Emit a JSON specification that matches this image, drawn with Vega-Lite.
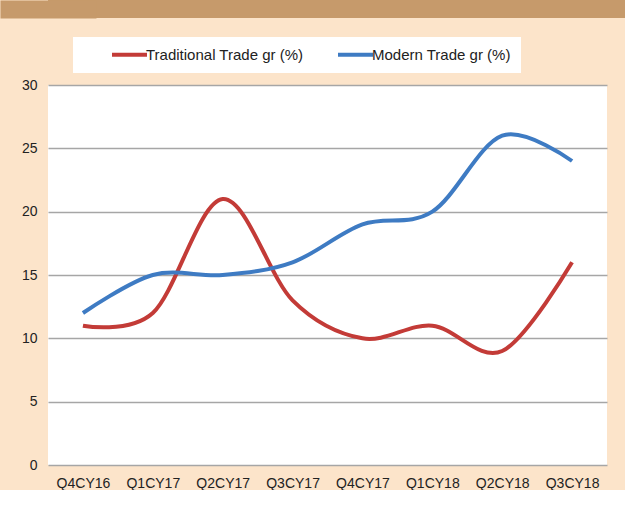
{
  "$schema": "https://vega.github.io/schema/vega-lite/v6.json",
  "background": "#FCE4CA",
  "padding": 0,
  "spacing": 60,
  "align": "none",
  "config": {
    "font": "Liberation Sans",
    "view": {"stroke": null}
  },
  "vconcat": [
    {
      "width": 577,
      "height": 18,
      "view": {"fill": "#C69A6B", "stroke": null},
      "data": {"values": [{"v": 0}]},
      "mark": {"type": "point", "opacity": 0},
      "encoding": {
        "y": {
          "field": "v",
          "type": "quantitative",
          "title": null,
          "axis": {
            "labels": false,
            "ticks": false,
            "grid": false,
            "zindex": 1,
            "domainWidth": 96,
            "domainColor": "#C69A6B",
            "domainCap": "butt"
          }
        }
      }
    },
    {
      "width": 559,
      "height": 380,
      "view": {"fill": "#FFFFFF", "stroke": null},
      "data": {
        "values": [
          {"quarter": "Q4CY16", "series": "Traditional Trade gr (%)", "value": 11},
          {"quarter": "Q1CY17", "series": "Traditional Trade gr (%)", "value": 12},
          {"quarter": "Q2CY17", "series": "Traditional Trade gr (%)", "value": 21},
          {"quarter": "Q3CY17", "series": "Traditional Trade gr (%)", "value": 13},
          {"quarter": "Q4CY17", "series": "Traditional Trade gr (%)", "value": 10},
          {"quarter": "Q1CY18", "series": "Traditional Trade gr (%)", "value": 11},
          {"quarter": "Q2CY18", "series": "Traditional Trade gr (%)", "value": 9},
          {"quarter": "Q3CY18", "series": "Traditional Trade gr (%)", "value": 16},
          {"quarter": "Q4CY16", "series": "Modern Trade gr (%)", "value": 12},
          {"quarter": "Q1CY17", "series": "Modern Trade gr (%)", "value": 15},
          {"quarter": "Q2CY17", "series": "Modern Trade gr (%)", "value": 15},
          {"quarter": "Q3CY17", "series": "Modern Trade gr (%)", "value": 16},
          {"quarter": "Q4CY17", "series": "Modern Trade gr (%)", "value": 19},
          {"quarter": "Q1CY18", "series": "Modern Trade gr (%)", "value": 20},
          {"quarter": "Q2CY18", "series": "Modern Trade gr (%)", "value": 26},
          {"quarter": "Q3CY18", "series": "Modern Trade gr (%)", "value": 24}
        ]
      },
      "mark": {"type": "line", "interpolate": "cardinal", "strokeWidth": 4},
      "encoding": {
        "x": {
          "field": "quarter",
          "type": "nominal",
          "sort": null,
          "title": null,
          "axis": {
            "labelAngle": 0,
            "domain": false,
            "ticks": false,
            "labelPadding": 11,
            "labelFontSize": 14,
            "labelColor": "#222222"
          }
        },
        "y": {
          "field": "value",
          "type": "quantitative",
          "title": null,
          "scale": {"domain": [0, 30], "nice": false},
          "axis": {
            "values": [0, 5, 10, 15, 20, 25, 30],
            "domain": false,
            "ticks": false,
            "labelPadding": 11,
            "labelFontSize": 14,
            "labelColor": "#222222",
            "gridColor": "#A6A6A6",
            "gridWidth": 1.5,
            "minExtent": 48,
            "maxExtent": 48
          }
        },
        "color": {
          "field": "series",
          "type": "nominal",
          "sort": null,
          "scale": {
            "domain": ["Traditional Trade gr (%)", "Modern Trade gr (%)"],
            "range": ["#C33B37", "#3E7BC3"]
          },
          "legend": {
            "title": null,
            "orient": "none",
            "legendX": 25,
            "legendY": 37,
            "direction": "horizontal",
            "columns": 2,
            "gridAlign": "all",
            "fillColor": "#FFFFFF",
            "padding": 10,
            "symbolType": "M-1,0H9",
            "symbolSize": 49,
            "symbolStrokeWidth": 4,
            "symbolOffset": 25,
            "labelOffset": 23,
            "labelFontSize": 15,
            "labelColor": "#222222",
            "columnPadding": 5
          }
        }
      }
    }
  ]
}
